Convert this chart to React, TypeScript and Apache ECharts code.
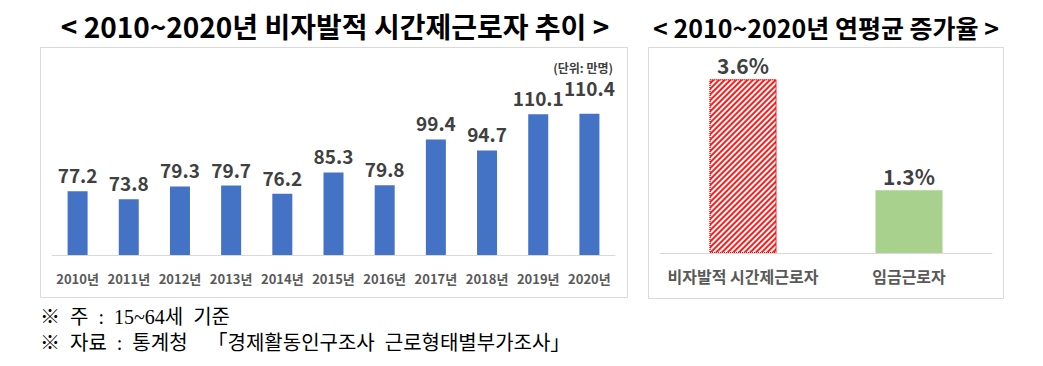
import React, { useEffect, useRef } from "react";
import * as echarts from "echarts";

const years = ["2010년", "2011년", "2012년", "2013년", "2014년", "2015년", "2016년", "2017년", "2018년", "2019년", "2020년"];
const workers = [77.2, 73.8, 79.3, 79.7, 76.2, 85.3, 79.8, 99.4, 94.7, 110.1, 110.4];
const growthCats = ["비자발적 시간제근로자", "임금근로자"];
const growthVals = [3.6, 1.3];

const leftTitle = "< 2010~2020년 비자발적 시간제근로자 추이 >";
const rightTitle = "< 2010~2020년 연평균 증가율 >";
const unitText = "(단위: 만명)";
const note1 = "※  주  :  15~64세  기준";
const note2 = "※  자료  :  통계청    「경제활동인구조사  근로형태별부가조사」";

const FONT = "'Noto Sans CJK KR', 'Noto Sans', sans-serif";
const SERIF = "'Liberation Serif', 'Noto Sans CJK KR', serif";

export default function App() {
  const ref = useRef<HTMLDivElement>(null);
  useEffect(() => {
    const chart = echarts.init(ref.current!, null, { renderer: "svg" });
    chart.setOption({
      animation: false,
      backgroundColor: "#ffffff",
      textStyle: { fontFamily: FONT },
      graphic: [
        { type: "rect", z: -10, shape: { x: 40.5, y: 47.5, width: 587, height: 250 }, style: { fill: "#fff", stroke: "#d9d9d9", lineWidth: 1 } },
        { type: "rect", z: -10, shape: { x: 648.5, y: 47.5, width: 355, height: 251 }, style: { fill: "#fff", stroke: "#d9d9d9", lineWidth: 1 } },
        { type: "text", x: 335, y: 26, style: { text: leftTitle, fontFamily: FONT, fontSize: 28, fontWeight: "bold", fill: "#000", textAlign: "center", textVerticalAlign: "middle" } },
        { type: "text", x: 826, y: 27, style: { text: rightTitle, fontFamily: FONT, fontSize: 25, fontWeight: "bold", fill: "#000", textAlign: "center", textVerticalAlign: "middle" } },
        { type: "text", x: 613, y: 67, style: { text: unitText, fontFamily: FONT, fontSize: 12, fontWeight: "bold", fill: "#404040", textAlign: "right", textVerticalAlign: "middle" } },
        { type: "text", x: 40, y: 317, style: { text: note1, fontFamily: SERIF, fontSize: 20, fill: "#000", textAlign: "left", textVerticalAlign: "middle" } },
        { type: "text", x: 40, y: 343, style: { text: note2, fontFamily: SERIF, fontSize: 20, fill: "#000", textAlign: "left", textVerticalAlign: "middle" } },
      ],
      grid: [
        { left: 52, right: 1043 - 615, top: 67.8, bottom: 366 - 255 },
        { left: 660, right: 1043 - 992, top: 60, bottom: 366 - 253 },
      ],
      xAxis: [
        {
          type: "category", gridIndex: 0, data: years,
          axisLine: { lineStyle: { color: "#d9d9d9", width: 1 } },
          axisTick: { show: false },
          axisLabel: { interval: 0, margin: 17, fontSize: 13, fontWeight: "bold", color: "#595959", fontFamily: FONT },
        },
        {
          type: "category", gridIndex: 1, data: growthCats,
          axisLine: { lineStyle: { color: "#d9d9d9", width: 1 } },
          axisTick: { show: false },
          axisLabel: { interval: 0, margin: 15, fontSize: 16, fontWeight: "bold", color: "#595959", fontFamily: FONT },
        },
      ],
      yAxis: [
        { type: "value", gridIndex: 0, min: 50, max: 130, show: false, splitLine: { show: false } },
        { type: "value", gridIndex: 1, min: 0, max: 4, show: false, splitLine: { show: false } },
      ],
      series: [
        {
          type: "bar", xAxisIndex: 0, yAxisIndex: 0, barWidth: 20,
          data: workers.map((v, i) => (i === workers.length - 1 ? { value: v, label: { offset: [0, -10] } } : v)),
          itemStyle: { color: "#4472c4" },
          label: { show: true, position: "top", distance: 7, fontSize: 19, fontWeight: "bold", color: "#404040", fontFamily: FONT },
        },
        {
          type: "bar", xAxisIndex: 1, yAxisIndex: 1, barWidth: 67,
          data: growthVals.map((v, i) =>
            i === 0
              ? {
                  value: v,
                  itemStyle: {
                    color: "#ffffff",
                    borderColor: "#ff0000",
                    borderWidth: 1,
                    borderType: "dotted",
                    decal: { symbol: "rect", symbolSize: 1, color: "#ff1a1a", dashArrayX: [1, 0], dashArrayY: [1.6, 1.2], rotation: -Math.PI / 4 },
                  },
                }
              : { value: v, itemStyle: { color: "#a9d18e" } }
          ),
          label: { show: true, position: "top", distance: 4, fontSize: 21, fontWeight: "bold", color: "#404040", fontFamily: FONT, formatter: (p: any) => p.value.toFixed(1) + "%" },
        },
      ],
    });
    return () => chart.dispose();
  }, []);
  return <div ref={ref} style={{ position: "fixed", left: 0, top: 0, width: 1043, height: 366 }} />;
}
